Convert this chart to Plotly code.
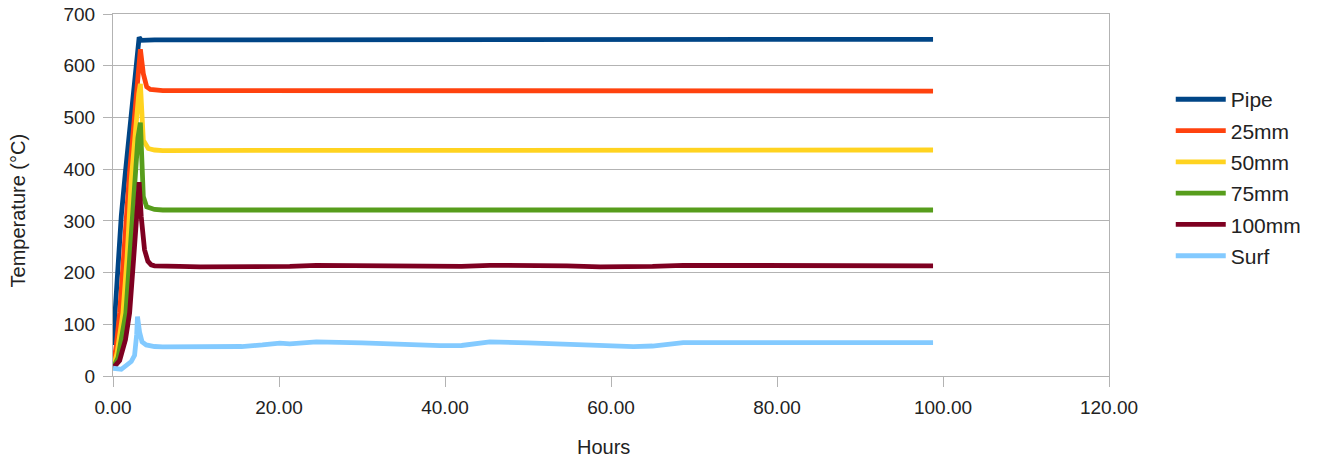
import plotly.graph_objects as go

# ---- data ----
tail_hours = [5, 6, 8, 10.5, 15.5, 18, 20.1, 21.3, 24.5, 30, 34.6, 39.4, 42, 45.4, 50, 54.7,
              58.7, 62.7, 65, 68.7, 73, 78.8, 83, 86.8, 92, 98.8]

pipe_x = [0, 0.25, 0.5, 1.0, 1.5, 2.0, 2.5, 3.0, 3.15, 3.4, 4.0]
pipe_y = [60, 130, 195, 310, 395, 472, 550, 628, 655, 649, 650]
pipe_tail = [650, 650, 650, 651, 650, 650, 650, 649, 650, 650, 650, 649, 650, 650, 650, 650,
             651, 650, 650, 650, 649, 650, 650, 650, 650, 651]

mm25_x = [0, 0.4, 0.8, 1.2, 1.7, 2.0, 2.5, 3.0, 3.3, 3.65, 4.06, 4.5]
mm25_y = [15, 60, 122, 220, 340, 395, 485, 574, 632, 585, 559, 554]
mm25_tail = [553, 552, 552, 552, 552, 551, 551, 551, 550, 551, 551, 552, 552, 551, 551, 551,
             552, 552, 551, 551, 550, 551, 551, 551, 551, 551]

mm50_x = [0, 0.5, 1.2, 1.7, 2.2, 2.7, 3.1, 3.3, 3.46, 3.65, 4.25]
mm50_y = [15, 45, 122, 230, 379, 480, 545, 565, 489, 456, 440]
mm50_tail = [437, 436, 436, 435, 435, 436, 436, 435, 435, 436, 436, 435, 435, 436, 436, 436,
             435, 435, 435, 436, 436, 436, 436, 436, 437, 437]

mm75_x = [0, 0.6, 1.55, 2.0, 2.6, 3.0, 3.3, 3.46, 3.65, 4.06]
mm75_y = [15, 35, 122, 220, 379, 460, 490, 379, 347, 327]
mm75_tail = [322, 321, 321, 321, 320, 321, 321, 322, 322, 321, 321, 320, 321, 322, 322, 321,
             320, 320, 320, 321, 321, 321, 321, 321, 321, 321]

mm100_x = [0, 0.8, 1.5, 2.0, 2.5, 2.9, 3.15, 3.4, 3.8, 4.2, 4.6]
mm100_y = [15, 30, 70, 122, 230, 320, 375, 308, 244, 222, 215]
mm100_tail = [213, 212, 212, 211, 211, 212, 213, 212, 214, 213, 212, 211, 212, 214, 214, 213,
              211, 211, 212, 214, 214, 214, 213, 213, 213, 213]

surf_x = [0, 1.0, 2.2, 2.6, 2.85, 2.95, 3.2, 3.5, 4.0]
surf_y = [15, 13, 28, 40, 80, 115, 85, 66, 60]
surf_tail = [57, 56.5, 56.5, 56.7, 57, 60, 63.5, 62, 66, 64, 61, 58.6, 59, 66, 64, 61,
             58.6, 56.7, 58, 64.7, 64.7, 64.7, 63.5, 63, 64, 64.7]

series = [
    ("Pipe", pipe_x, pipe_y, pipe_tail, "#004586"),
    ("25mm", mm25_x, mm25_y, mm25_tail, "#ff420e"),
    ("50mm", mm50_x, mm50_y, mm50_tail, "#ffd320"),
    ("75mm", mm75_x, mm75_y, mm75_tail, "#579d1c"),
    ("100mm", mm100_x, mm100_y, mm100_tail, "#7e0021"),
    ("Surf", surf_x, surf_y, surf_tail, "#83caff"),
]

x_ticks = [0, 20, 40, 60, 80, 100, 120]
y_ticks = [0, 100, 200, 300, 400, 500, 600, 700]
x_title = "Hours"
y_title = "Temperature (°C)"

fig = go.Figure()
for name, xs, ys, tail, col in series:
    fig.add_trace(go.Scatter(x=xs + tail_hours, y=ys + tail, name=name, mode="lines",
                             legendgroup=name,
                             line=dict(color=col, width=4.8)))

FONT = "Liberation Sans, Arial, sans-serif"
tick_font = dict(family=FONT, size=19, color="#222222")
fig.update_layout(
    width=1321, height=461,
    margin=dict(l=113, r=212, t=14, b=85),
    plot_bgcolor="white", paper_bgcolor="white",
    font=dict(family=FONT, size=19, color="#222222"),
    legend=dict(x=1.062, y=0.548, xanchor="left", yanchor="middle",
                font=dict(family=FONT, size=21, color="#222222"), tracegroupgap=1,
                itemwidth=50),
    xaxis=dict(range=[0, 120], tickvals=x_ticks, tickformat=".2f",
               showgrid=False, showline=True, linecolor="#b3b3b3", mirror=True,
               ticks="outside", ticklen=10, tickcolor="#b3b3b3", tickfont=tick_font,
               ticklabelstandoff=4, zeroline=False, automargin=False,
               ticklabeloverflow="allow"),
    yaxis=dict(range=[0, 700], tickvals=y_ticks,
               showgrid=True, gridcolor="#b3b3b3", gridwidth=1,
               showline=True, linecolor="#b3b3b3", mirror=True,
               ticks="outside", ticklen=9, tickcolor="#b3b3b3", tickfont=tick_font,
               ticklabelstandoff=4, zeroline=False, automargin=False,
               ticklabeloverflow="allow"),
    annotations=[
        dict(text=x_title, xref="paper", yref="paper", x=0.492, y=-0.196,
             xanchor="center", yanchor="middle", showarrow=False,
             font=dict(family=FONT, size=20, color="#222222")),
        dict(text=y_title, xref="paper", yref="paper", x=-0.0949, y=0.4586,
             xanchor="center", yanchor="middle", showarrow=False, textangle=-90,
             font=dict(family=FONT, size=20, color="#222222")),
    ],
)
fig.write_html("out.html", config={"displayModeBar": False},
               post_script="document.body.style.margin='0';")
